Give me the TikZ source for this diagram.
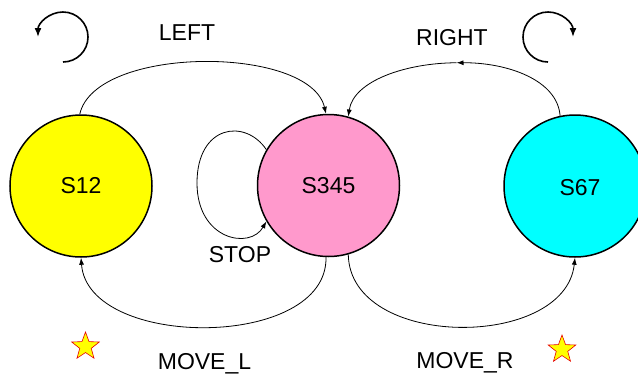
\documentclass[tikz,border=0pt]{standalone}
\usepackage{fontspec}
\setmainfont{Liberation Sans}
\usetikzlibrary{arrows.meta,shapes.geometric}
\definecolor{pinkS}{RGB}{255,153,204}
\definecolor{cyanS}{RGB}{0,255,255}
\definecolor{yellowS}{RGB}{255,255,0}
\definecolor{redS}{RGB}{230,0,0}
\begin{document}
\begin{tikzpicture}[x=1pt,y=-1pt,
  statenode/.style={circle,draw=black,line width=1.5pt,minimum size=142pt,inner sep=0pt,font=\fontsize{23}{27}\selectfont},
  lbl/.style={font=\fontsize{23}{27}\selectfont,inner sep=0pt,anchor=base},
  conn/.style={line width=0.8pt,-{Latex[length=7pt,width=5pt]}},
  rot/.style={line width=1.6pt,-{Latex[length=9pt,width=7pt]}},
  starnode/.style={star,star points=5,star point ratio=2.4,minimum size=29pt,inner sep=0pt,fill=yellowS,draw=redS,line width=0.6pt}]
\useasboundingbox (0,0) rectangle (638,373);
% states
\node[statenode,fill=yellowS] (s12) at (81,186) {S12};
\node[statenode,fill=pinkS] (s345) at (328.5,185.5) {S345};
\node[statenode,fill=cyanS] (s67) at (575,186) {};
\node[font=\fontsize{23}{27}\selectfont,inner sep=0pt] (t67) at (580,188) {S67};
% LEFT
\draw[conn] (s12.91) .. controls (95,45) and (310,45) .. (s345.92);
% RIGHT (arrow in the middle)
\coordinate (rpeak) at (456.5,62.75);
\draw[conn] (s67.102) .. controls (557.5,80) and (507.5,62.5) .. (rpeak);
\draw[conn] (rpeak) .. controls (405.5,63) and (353.5,81) .. (s345.74);
% STOP loop
\coordinate (sl) at (197,183);
\draw[line width=0.8pt] (s345.150) .. controls (245,118) and (197,125) .. (sl);
\draw[conn] (sl) .. controls (197,240) and (250,250) .. (s345.210);
% MOVE_L
\draw[conn] (s345.268) .. controls (328,350) and (88,350) .. (s12.270);
% MOVE_R
\draw[conn] (s345.286) .. controls (350,350) and (565,350) .. (s67.270);
% labels
\node[lbl] (lleft) at (187,40.5) {LEFT};
\node[lbl] (lright) at (452,45) {RIGHT};
\node[lbl] (lstop) at (240,262) {STOP};
\node[lbl] (lmovel) at (204.5,369) {MOVE\_L};
\node[lbl] (lmover) at (465,368) {MOVE\_R};
% rotation arrows
\draw[rot] (63,62) arc[start angle=90,end angle=-180,radius=25];
\draw[rot] (548,62) arc[start angle=90,end angle=360,radius=25];
% stars
\node[starnode] (star1) at (85.5,346.5) {};
\node[starnode] (star2) at (562,349.5) {};
\end{tikzpicture}
\end{document}
